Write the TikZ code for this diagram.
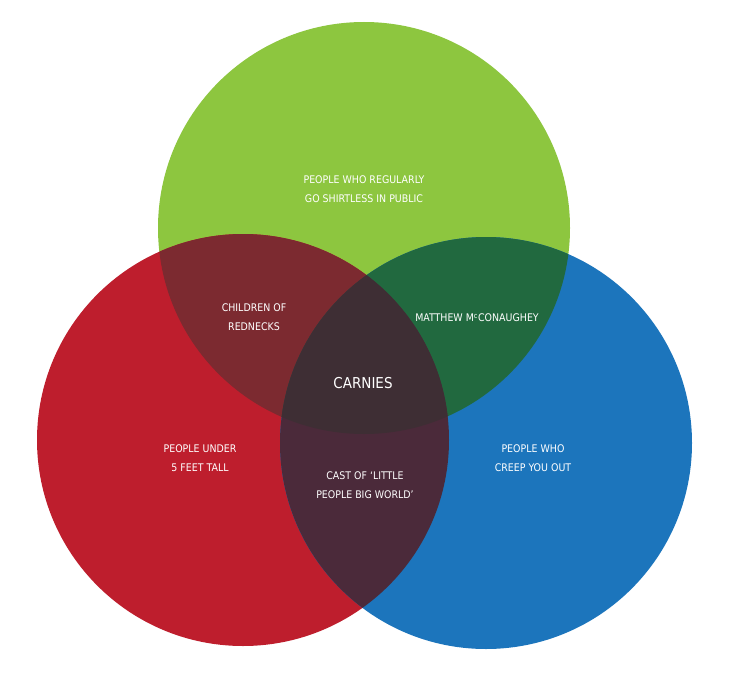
\documentclass[tikz,border=0pt]{standalone}
\usepackage{fontspec}
\setmainfont{DejaVu Sans Condensed}
\begin{document}
\begin{tikzpicture}[x=1pt,y=-1pt,
  lab/.style={text=white,align=center,font=\fontsize{10.5}{19}\selectfont}]
\useasboundingbox[fill=white] (0,0) rectangle (736,685);
\definecolor{cg}{HTML}{8DC63F}\definecolor{cr}{HTML}{BE1E2D}\definecolor{cb}{HTML}{1C75BC}
\definecolor{crg}{HTML}{7C2A30}\definecolor{cgb}{HTML}{21693F}\definecolor{crb}{HTML}{4B2A3A}
\definecolor{call}{HTML}{3E2E34}
\def\G{(364,228) circle (206)}
\def\R{(243,440) circle (206)}
\def\B{(486,443) circle (206)}
\fill[cg] \G; \fill[cr] \R; \fill[cb] \B;
\begin{scope}\clip \R; \fill[crg] \G; \end{scope}
\begin{scope}\clip \B; \fill[cgb] \G; \end{scope}
\begin{scope}\clip \R; \fill[crb] \B; \end{scope}
\begin{scope}\clip \R; \clip \B; \fill[call] \G; \end{scope}
\node[lab] (g) at (364,189) {PEOPLE WHO REGULARLY\\GO SHIRTLESS IN PUBLIC};
\node[lab] (rg) at (254,317) {CHILDREN OF\\REDNECKS};
\node[lab] (gb) at (477,318) {MATTHEW M\textsuperscript{c}CONAUGHEY};
\node[lab,font=\fontsize{15}{17}\selectfont] (all) at (363,383) {CARNIES};
\node[lab] (r) at (200,458) {PEOPLE UNDER\\5 FEET TALL};
\node[lab] (rb) at (365,485) {CAST OF `LITTLE\\PEOPLE BIG WORLD'};
\node[lab] (b) at (533,458) {PEOPLE WHO\\CREEP YOU OUT};
\end{tikzpicture}
\end{document}
